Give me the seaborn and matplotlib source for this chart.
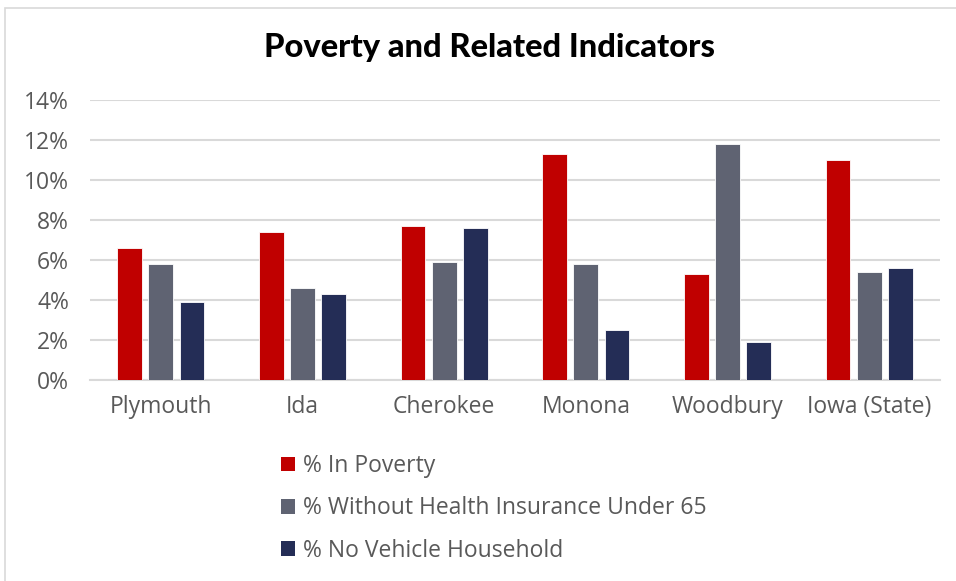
import matplotlib
matplotlib.use("Agg")
import matplotlib.pyplot as plt
import matplotlib.patches as mpatches
import matplotlib.ticker as mticker
import numpy as np
import pandas as pd
import seaborn as sns

# Data (percent)
counties = ["Plymouth", "Ida", "Cherokee", "Monona", "Woodbury", "Iowa (State)"]
series_names = ["% In Poverty", "% Without Health Insurance Under 65", "% No Vehicle Household"]
in_poverty = [6.6, 7.4, 7.7, 11.3, 5.3, 11.0]
no_insurance_u65 = [5.8, 4.6, 5.9, 5.8, 11.8, 5.4]
no_vehicle = [3.9, 4.3, 7.6, 2.5, 1.9, 5.6]
colors = ["#C00000", "#5F6372", "#242D56"]

df = pd.DataFrame({
    "county": counties * 3,
    "series": np.repeat(series_names, len(counties)),
    "value": in_poverty + no_insurance_u65 + no_vehicle,
})

sns.set_theme(style="white")
plt.rcParams["font.family"] = ["Open Sans", "DejaVu Sans"]

fig = plt.figure(figsize=(9.56, 5.81), dpi=100)
ax = fig.add_axes([90 / 956, 1 - 380 / 581, 850 / 956, 280 / 581])

sns.barplot(data=df, x="county", y="value", hue="series", order=counties,
            hue_order=series_names, palette=colors, saturation=1, width=0.66, gap=0.2,
            edgecolor="white", linewidth=0.6, ax=ax, legend=False, zorder=3)

ax.set_ylim(0, 14)
ax.set_xlim(-0.5, len(counties) - 0.5)
ax.yaxis.set_major_locator(mticker.MultipleLocator(2))
ax.yaxis.set_major_formatter(mticker.FuncFormatter(lambda v, p: f"{v:.0f}%"))
ax.grid(axis="y", color="#D9D9D9", linewidth=1.5, zorder=0)
ax.set_axisbelow(True)
for s in ["left", "right", "top"]:
    ax.spines[s].set_visible(False)
ax.spines["bottom"].set_color("#D9D9D9")
ax.spines["bottom"].set_linewidth(1.5)
ax.set_xlabel("")
ax.set_ylabel("")
ax.tick_params(axis="both", length=0, labelsize=16.5, colors="#595959")
ax.tick_params(axis="x", pad=11)
ax.tick_params(axis="y", pad=15)

fig.text(489 / 956, 1 - 47 / 581, "Poverty and Related Indicators",
         ha="center", va="center", fontsize=23.5, fontweight="black", color="black",
         family=["Lato", "DejaVu Sans"])

handles = [mpatches.Patch(facecolor=c, edgecolor="none") for c in colors]
fig.legend(handles, series_names, loc="upper left",
           bbox_to_anchor=(272 / 956, 1 - 445 / 581), frameon=False,
           fontsize=16.5, labelcolor="#595959", handlelength=0.6, handleheight=0.6,
           handletextpad=0.35, labelspacing=0.8, borderaxespad=0)

# Chart frame
fig.patches.append(mpatches.Rectangle((5 / 956, -0.05), 1.1, 1 - 8 / 581 + 0.05,
                                      transform=fig.transFigure, fill=False,
                                      edgecolor="#D9D9D9", linewidth=1.2))

fig.savefig("out.png", dpi=100)
